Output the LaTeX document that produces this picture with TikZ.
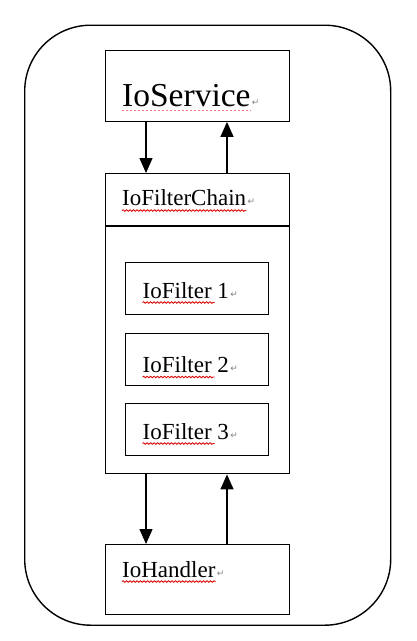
\documentclass[tikz,border=0pt]{standalone}
\usepackage{fontspec}
\setmainfont{Liberation Serif}
\newfontfamily\retfont{DejaVu Sans}
\usetikzlibrary{arrows.meta,decorations.pathmorphing}
\begin{document}
\begin{tikzpicture}[x=1pt,y=-1pt,
  box/.style={draw=black,line width=1.4pt,inner sep=0pt,anchor=north west},
  lbl/.style={anchor=base west,inner sep=0pt,font=\fontsize{23}{26}\selectfont},
  arr/.style={line width=1.4pt,-{Triangle[width=13pt,length=15pt]}},
  wavy/.style={draw=red!85!black,line width=0.8pt,decorate,decoration={snake,amplitude=0.8pt,segment length=3.5pt}},
  ret/.style={anchor=base west,inner sep=0pt,text=gray,font=\retfont\fontsize{9}{10}\selectfont}]
\useasboundingbox (0,0) rectangle (417,641);
% outer rounded frame
\node[box,rounded corners=66pt,minimum width=366pt,minimum height=600pt] (frame) at (24,24.5) {};
% boxes
\node[box,minimum width=184pt,minimum height=71pt] (svc) at (104.5,49.5) {};
\node[box,minimum width=184pt,minimum height=300pt] (chain) at (104.5,173) {};
\coordinate (divl) at (104.5,226);
\coordinate (divr) at (288.5,226);
\draw[line width=1.4pt] (divl) -- (divr);
\node[box,minimum width=143pt,minimum height=52pt] (f1) at (125,262) {};
\node[box,minimum width=143pt,minimum height=52pt] (f2) at (125,332.5) {};
\node[box,minimum width=143pt,minimum height=52pt] (f3) at (125,403) {};
\node[box,minimum width=184pt,minimum height=70pt] (hdl) at (104.5,544) {};
% texts
\node[anchor=base west,inner sep=0pt,font=\fontsize{33.5}{38}\selectfont] (tsvc) at (122,106) {IoService};
\node[lbl] (tchain) at (122,205.5) {IoFilterChain};
\node[lbl] (tf1) at (142.5,298) {IoFilter 1};
\node[lbl] (tf2) at (142.5,372.5) {IoFilter 2};
\node[lbl] (tf3) at (142.5,439) {IoFilter 3};
\node[lbl] (thdl) at (122,577) {IoHandler};
% spell-check underlines
\draw[draw=red!55,line width=0.8pt,dash pattern=on 2pt off 2pt] ([yshift=-4.5pt]tsvc.base west) -- ([yshift=-4.5pt]tsvc.base east);
\draw[wavy] ([yshift=-5pt]tchain.base west) -- ([yshift=-5pt]tchain.base east);
\draw[wavy] ([yshift=-4.5pt]tf1.base west) -- ++(72,0);
\draw[wavy] ([yshift=-4.5pt]tf2.base west) -- ++(72,0);
\draw[wavy] ([yshift=-4.5pt]tf3.base west) -- ++(72,0);
\draw[wavy] ([yshift=-4.5pt]thdl.base west) -- ([yshift=-4.5pt]thdl.base east);
% paragraph marks
\node[ret] (rsvc) at ([xshift=1pt,yshift=1pt]tsvc.base east) {↵};
\node[ret] (rchain) at ([xshift=1pt,yshift=1pt]tchain.base east) {↵};
\node[ret] (rf1) at ([xshift=1pt,yshift=1pt]tf1.base east) {↵};
\node[ret] (rf2) at ([xshift=1pt,yshift=1pt]tf2.base east) {↵};
\node[ret] (rf3) at ([xshift=1pt,yshift=1pt]tf3.base east) {↵};
\node[ret] (rhdl) at ([xshift=1pt,yshift=1pt]thdl.base east) {↵};
% arrows
\draw[arr] ([xshift=41.5pt]svc.south west) -- ([xshift=41.5pt]chain.north west);
\draw[arr] ([xshift=122.5pt]chain.north west) -- ([xshift=122.5pt]svc.south west);
\draw[arr] ([xshift=41.5pt]chain.south west) -- ([xshift=41.5pt]hdl.north west);
\draw[arr] ([xshift=122.5pt]hdl.north west) -- ([xshift=122.5pt]chain.south west);
\end{tikzpicture}
\end{document}
